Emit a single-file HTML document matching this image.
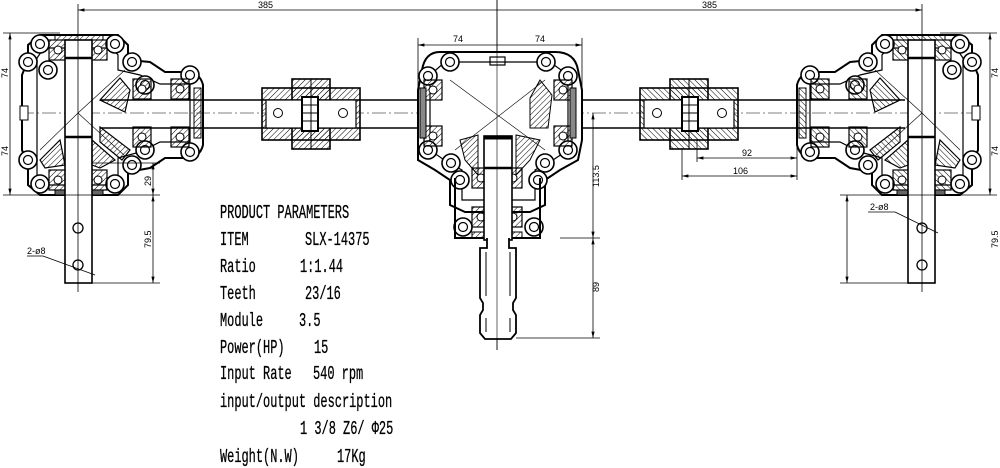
<!DOCTYPE html>
<html><head><meta charset="utf-8"><style>
html,body{margin:0;padding:0;background:#fff;}
svg{display:block;}
text{fill:#000;}
.dim{font-family:"Liberation Sans",sans-serif;font-size:9px;}
.p{font-family:"Liberation Mono","Noto Sans CJK SC",monospace;font-size:19px;stroke:#000;stroke-width:0.3;}
</style></head><body>
<svg width="1000" height="468" viewBox="0 0 1000 468" xmlns="http://www.w3.org/2000/svg">
<defs>
<pattern id="h" width="4" height="4" patternUnits="userSpaceOnUse" patternTransform="rotate(45)">
<line x1="0" y1="0" x2="0" y2="4" stroke="#000" stroke-width="1"/></pattern>
<marker id="a" markerWidth="8" markerHeight="6" refX="8" refY="3" orient="auto-start-reverse"><path d="M0,1 L8,3 L0,5z" fill="#000"/></marker>
<g id="lug"><circle r="9" fill="#fff" stroke="#000" stroke-width="1.6"/><circle r="4.5" fill="none" stroke="#000" stroke-width="1.2"/></g>
<g id="brg"><rect x="-9" y="-10" width="18" height="20" fill="url(#h)" stroke="#000" stroke-width="1.2"/><circle r="4" fill="#fff" stroke="#000"/></g>
<g id="side">
 <path d="M40,35 H118 L128,45 V60 L150,62 L165,72 H185 Q200,72 203,85 V145 Q200,158 185,158 H165 L150,168 L128,172 V185 L118,195 H40 L28,185 V165 L22,150 V75 L28,60 V45 Z" fill="none" stroke="#000" stroke-width="2"/>
 <path d="M44,48 H112 L118,55 V70 L140,75 L160,84 H190 V142 H160 L140,152 L118,158 V180 L112,185 H44 L37,178 V58 Z" fill="none" stroke="#000" stroke-width="1.2"/>
 <use href="#lug" x="40" y="44"/><use href="#lug" x="115" y="44"/><use href="#lug" x="28" y="62"/><use href="#lug" x="132" y="62"/>
 <use href="#lug" x="190" y="75"/><use href="#lug" x="28" y="160"/><use href="#lug" x="132" y="165"/><use href="#lug" x="190" y="152"/>
 <use href="#lug" x="40" y="184"/><use href="#lug" x="115" y="184"/><use href="#lug" x="48" y="70"/><use href="#lug" x="145" y="85"/><use href="#lug" x="145" y="150"/>
 <rect x="55" y="35" width="48" height="5" fill="url(#h)" stroke="#000"/>
 <use href="#brg" x="58" y="50"/><use href="#brg" x="98" y="50"/>
 <use href="#brg" x="58" y="180"/><use href="#brg" x="98" y="180"/>
 <rect x="55" y="190" width="48" height="5" fill="#666" stroke="#000"/>
 <rect x="65" y="40" width="27" height="243" fill="#fff" stroke="#000" stroke-width="1.6"/>
 <line x1="65" y1="58" x2="92" y2="58" stroke="#000" stroke-width="2.5"/>
 <line x1="65" y1="137" x2="92" y2="137" stroke="#000" stroke-width="2.5"/>
 <circle cx="78" cy="228" r="5" fill="none" stroke="#000" stroke-width="1.3"/>
 <circle cx="78" cy="265" r="5" fill="none" stroke="#000" stroke-width="1.3"/>
 <use href="#brg" x="142" y="89"/><use href="#brg" x="142" y="137"/>
 <use href="#brg" x="180" y="89"/><use href="#brg" x="180" y="137"/>
 <rect x="194" y="88" width="7" height="50" fill="url(#h)" stroke="#000"/>
 <path d="M100,100 L120,78 L130,90 L125,112 Z" fill="url(#h)" stroke="#000" stroke-width="1.2"/>
 <path d="M100,127 L130,150 L122,160 L100,142 Z" fill="url(#h)" stroke="#000" stroke-width="1.2"/>
 <path d="M40,160 L60,140 L65,165 L45,168 Z" fill="url(#h)" stroke="#000" stroke-width="1.2"/>
 <path d="M92,140 L115,160 L100,168 L92,165 Z" fill="url(#h)" stroke="#000" stroke-width="1.2"/>
 <rect x="20" y="106" width="8" height="14" fill="#fff" stroke="#000"/>
 <line x1="78" y1="113" x2="125" y2="70" stroke="#000" stroke-width="0.6"/>
 <line x1="78" y1="113" x2="125" y2="156" stroke="#000" stroke-width="0.6"/>
 <line x1="78" y1="113" x2="40" y2="150" stroke="#000" stroke-width="0.6"/>
 <rect x="262" y="88" width="98" height="52" fill="url(#h)" stroke="#000" stroke-width="1.6"/>
 <rect x="292" y="79" width="38" height="70" fill="url(#h)" stroke="#000" stroke-width="1.6"/>
 <rect x="266" y="100" width="90" height="28" fill="#fff" stroke="#000" stroke-width="1.2"/>
 <rect x="302" y="97" width="16" height="34" fill="#fff" stroke="#000" stroke-width="2"/>
 <line x1="302" y1="105" x2="318" y2="105" stroke="#000"/><line x1="302" y1="113" x2="318" y2="113" stroke="#000"/><line x1="302" y1="121" x2="318" y2="121" stroke="#000"/>
 <line x1="311" y1="79" x2="311" y2="149" stroke="#000"/>
 <circle cx="278" cy="113" r="4.5" fill="none" stroke="#000"/><circle cx="343" cy="113" r="4.5" fill="none" stroke="#000"/>
 <line x1="78" y1="4" x2="78" y2="292" stroke="#000" stroke-width="0.8"/>
 <line x1="3" y1="33" x2="60" y2="33" stroke="#000" stroke-width="0.8"/>
 <line x1="3" y1="195" x2="160" y2="195" stroke="#000" stroke-width="0.8"/>
 <line x1="10" y1="33" x2="10" y2="195" stroke="#000" stroke-width="0.8" marker-start="url(#a)" marker-end="url(#a)"/>
 <line x1="92" y1="283" x2="160" y2="283" stroke="#000" stroke-width="0.8"/>
 <line x1="153" y1="195" x2="153" y2="283" stroke="#000" stroke-width="0.8" marker-start="url(#a)" marker-end="url(#a)"/>
</g>
</defs>

<line x1="78" y1="10" x2="922" y2="10" stroke="#000" stroke-width="0.8" marker-start="url(#a)" marker-end="url(#a)"/>
<line x1="497" y1="0" x2="497" y2="350" stroke="#000" stroke-width="0.8"/>
<text class="dim" x="258" y="8">385</text><text class="dim" x="702" y="8">385</text>

<line x1="100" y1="100" x2="905" y2="100" stroke="#000" stroke-width="1.5"/>
<line x1="100" y1="128" x2="905" y2="128" stroke="#000" stroke-width="1.5"/>
<line x1="20" y1="113" x2="980" y2="113" stroke="#000" stroke-width="0.5" stroke-dasharray="14,3,2,3"/>

<use href="#side"/>
<use href="#side" transform="translate(1000,0) scale(-1,1)"/>

<line x1="92" y1="163" x2="160" y2="163" stroke="#000" stroke-width="0.8"/>
<line x1="153" y1="163" x2="153" y2="195" stroke="#000" stroke-width="0.8" marker-start="url(#a)" marker-end="url(#a)"/>
<line x1="27" y1="256" x2="43" y2="256" stroke="#000" stroke-width="0.8"/>
<line x1="43" y1="256" x2="95" y2="275" stroke="#000" stroke-width="0.8"/>
<line x1="868" y1="212" x2="895" y2="212" stroke="#000" stroke-width="0.8"/>
<line x1="895" y1="212" x2="938" y2="233" stroke="#000" stroke-width="0.8"/>

<text class="dim" transform="translate(8,78) rotate(-90)">74</text>
<text class="dim" transform="translate(8,156) rotate(-90)">74</text>
<text class="dim" transform="translate(151,186) rotate(-90)">29</text>
<text class="dim" transform="translate(151,248) rotate(-90)">79.5</text>
<text class="dim" x="27" y="254">2-ø8</text>
<text class="dim" transform="translate(998,78) rotate(-90)">74</text>
<text class="dim" transform="translate(998,156) rotate(-90)">74</text>
<text class="dim" transform="translate(998,248) rotate(-90)">79.5</text>
<text class="dim" x="870" y="210">2-ø8</text>

<g stroke="#000" fill="none">
<path d="M440,52 H555 Q575,52 578,70 L582,90 V140 L578,160 L560,170 L545,180 V205 L530,212 H465 L450,205 V180 L435,170 L418,160 V90 L422,70 Q425,52 440,52 Z" stroke-width="2" fill="#fff"/>
<path d="M445,62 H550 L568,75 V150 L550,162 L535,170 V200 H462 V170 L447,162 L430,150 V75 Z" stroke-width="1.2"/>
<rect x="490" y="57" width="15" height="8" stroke-width="1.2"/>
</g>
<use href="#lug" x="450" y="62"/><use href="#lug" x="546" y="62"/><use href="#lug" x="428" y="76"/><use href="#lug" x="568" y="76"/>
<use href="#lug" x="428" y="150"/><use href="#lug" x="568" y="150"/><use href="#lug" x="451" y="163"/><use href="#lug" x="545" y="163"/>
<use href="#lug" x="460" y="180"/><use href="#lug" x="538" y="180"/><use href="#lug" x="463" y="227"/><use href="#lug" x="534" y="227"/>
<path d="M455,178 V238 H540 V178" fill="none" stroke="#000" stroke-width="2"/>
<use href="#brg" x="433" y="90"/><use href="#brg" x="433" y="136"/><use href="#brg" x="563" y="90"/><use href="#brg" x="563" y="136"/>
<rect x="420" y="88" width="6" height="50" fill="#888" stroke="#000"/><rect x="570" y="88" width="6" height="50" fill="#888" stroke="#000"/>
<path d="M530,98 L540,80 L552,95 L548,128 L530,128 Z" fill="url(#h)" stroke="#000"/>
<path d="M460,140 L478,135 L478,175 L465,160 Z" fill="url(#h)" stroke="#000"/>
<path d="M516,135 L540,140 L530,160 L516,175 Z" fill="url(#h)" stroke="#000"/>
<line x1="455" y1="150" x2="545" y2="80" stroke="#000" stroke-width="0.6"/>
<line x1="450" y1="80" x2="545" y2="150" stroke="#000" stroke-width="0.6"/>
<use href="#brg" x="481" y="178"/><use href="#brg" x="513" y="178"/><use href="#brg" x="481" y="217"/><use href="#brg" x="513" y="217"/>
<rect x="472" y="232" width="50" height="6" fill="url(#h)" stroke="#000"/>
<rect x="484" y="136" width="28" height="104" fill="#fff" stroke="#000" stroke-width="1.6"/>
<line x1="484" y1="138" x2="512" y2="138" stroke="#000" stroke-width="3"/>
<line x1="484" y1="168" x2="512" y2="168" stroke="#000" stroke-width="2.5"/>
<path d="M487,238 V248 H480 V298 L483,303 V310 L480,315 V333 L485,339 H511 L516,333 V315 L513,310 V303 L516,298 V248 H509 V238" fill="#fff" stroke="#000" stroke-width="1.8"/>
<line x1="486" y1="252" x2="486" y2="296" stroke="#000"/><line x1="510" y1="252" x2="510" y2="296" stroke="#000"/>
<line x1="486" y1="318" x2="486" y2="332" stroke="#000"/><line x1="510" y1="318" x2="510" y2="332" stroke="#000"/>
<line x1="497" y1="0" x2="497" y2="350" stroke="#000" stroke-width="0.6"/>

<line x1="418" y1="38" x2="418" y2="88" stroke="#000" stroke-width="0.8"/>
<line x1="582" y1="38" x2="582" y2="88" stroke="#000" stroke-width="0.8"/>
<line x1="418" y1="45" x2="582" y2="45" stroke="#000" stroke-width="0.8" marker-start="url(#a)" marker-end="url(#a)"/>
<text class="dim" x="453" y="42">74</text><text class="dim" x="535" y="42">74</text>
<line x1="560" y1="238" x2="600" y2="238" stroke="#000" stroke-width="0.8"/>
<line x1="516" y1="338" x2="600" y2="338" stroke="#000" stroke-width="0.8"/>
<line x1="593" y1="113" x2="593" y2="238" stroke="#000" stroke-width="0.8" marker-start="url(#a)" marker-end="url(#a)"/>
<line x1="593" y1="238" x2="593" y2="338" stroke="#000" stroke-width="0.8" marker-start="url(#a)" marker-end="url(#a)"/>
<text class="dim" transform="translate(599,187) rotate(-90)">113.5</text>
<text class="dim" transform="translate(599,292) rotate(-90)">89</text>

<line x1="682" y1="148" x2="682" y2="180" stroke="#000" stroke-width="0.8"/>
<line x1="697" y1="140" x2="697" y2="162" stroke="#000" stroke-width="0.8"/>
<line x1="797" y1="140" x2="797" y2="180" stroke="#000" stroke-width="0.8"/>
<line x1="697" y1="158" x2="797" y2="158" stroke="#000" stroke-width="0.8" marker-start="url(#a)" marker-end="url(#a)"/>
<line x1="682" y1="176" x2="797" y2="176" stroke="#000" stroke-width="0.8" marker-start="url(#a)" marker-end="url(#a)"/>
<text class="dim" x="742" y="156">92</text><text class="dim" x="733" y="174">106</text>

<g class="p" transform="scale(0.63,1)">
<text x="349.2" y="218">PRODUCT PARAMETERS</text>
<text x="349.2" y="245">ITEM</text>
<text x="484.1" y="245">SLX-14375</text>
<text x="349.2" y="272">Ratio</text>
<text x="476.2" y="272">1:1.44</text>
<text x="349.2" y="299">Teeth</text>
<text x="484.1" y="299">23/16</text>
<text x="349.2" y="326">Module</text>
<text x="474.6" y="326">3.5</text>
<text x="349.2" y="353">Power(HP)</text>
<text x="498.4" y="353">15</text>
<text x="349.2" y="379">Input Rate</text>
<text x="496.8" y="379">540 rpm</text>
<text x="349.2" y="407">input/output description</text>
<text x="476.2" y="434">1 3/8 Z6/ Φ25</text>
<text x="349.2" y="462">Weight(N.W)</text>
<text x="534.9" y="462">17Kg</text>
</g>
</svg>
</body></html>
